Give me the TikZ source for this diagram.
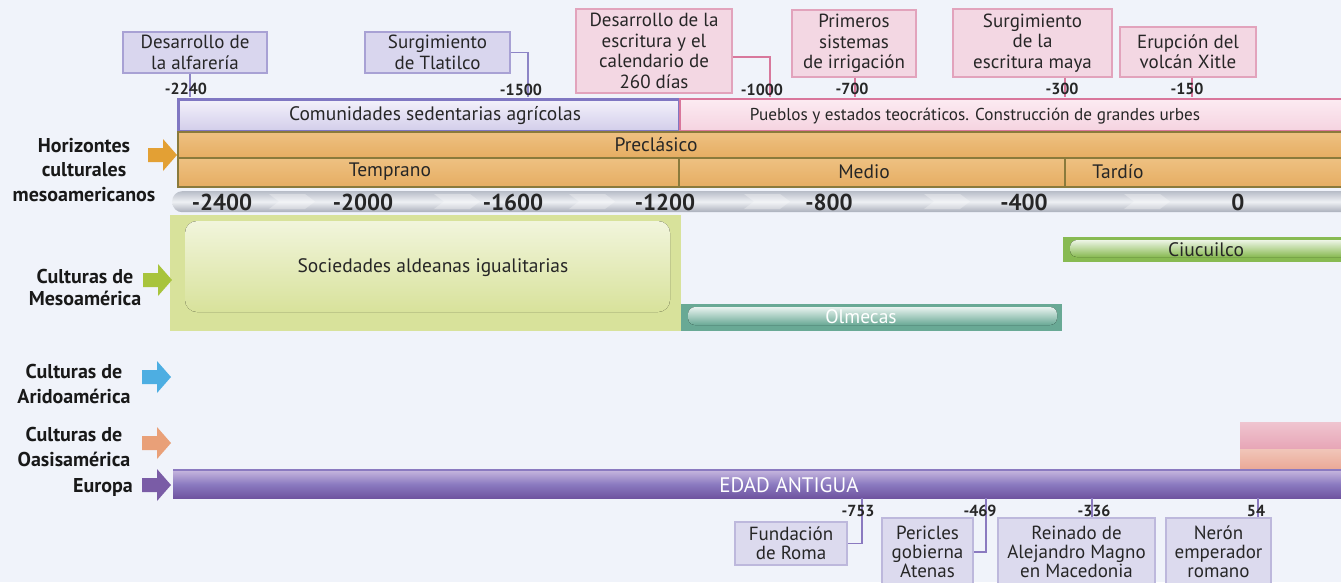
\documentclass[tikz,border=0pt]{standalone}
\usepackage{fontspec}
\setmainfont{PT Sans}

\definecolor{bgcol}{HTML}{F0F3FA}
\definecolor{evpurfill}{HTML}{D9D6EE}
\definecolor{evpurline}{HTML}{A8A1D4}
\definecolor{evpinkfill}{HTML}{F3D7E3}
\definecolor{evpinkline}{HTML}{E2A3BC}
\definecolor{purconn}{HTML}{8D85C6}
\definecolor{pinkconn}{HTML}{D8789C}
\definecolor{comline}{HTML}{8077C2}
\definecolor{comtop}{HTML}{F4F2FB}
\definecolor{combot}{HTML}{D2CDEA}
\definecolor{pueline}{HTML}{D9769B}
\definecolor{puetop}{HTML}{FCEBF2}
\definecolor{puebot}{HTML}{F5D3E0}
\definecolor{preline}{HTML}{8A7A3C}
\definecolor{pretop}{HTML}{EEC182}
\definecolor{prebot}{HTML}{E6AD62}
\definecolor{axtop}{HTML}{B8BDC8}
\definecolor{axmid}{HTML}{EEF0F4}
\definecolor{axbot}{HTML}{A9AEBA}
\definecolor{soccol}{HTML}{D8E29B}
\definecolor{ciucol}{HTML}{88BA52}
\definecolor{olmcol}{HTML}{69A995}
\definecolor{oastop}{HTML}{E7A5B6}
\definecolor{oasbot}{HTML}{E9A693}
\definecolor{eurtop}{HTML}{C6B6DE}
\definecolor{eurbot}{HTML}{6F539F}
\definecolor{eurline}{HTML}{8B7AC0}
\definecolor{lowfill}{HTML}{DCDAEE}
\definecolor{lowline}{HTML}{BDB8DC}
\definecolor{arrhor}{HTML}{E3A034}
\definecolor{arrmes}{HTML}{A8C43C}
\definecolor{arrari}{HTML}{4DAEE2}
\definecolor{arroas}{HTML}{E9A078}
\definecolor{arreur}{HTML}{7A5CA6}

\tikzset{
  evpur/.style={draw=evpurline, fill=evpurfill, line width=1.2pt, align=center, inner sep=1pt, text=black!85, font=\fontsize{19}{20.5}\selectfont},
  evpink/.style={evpur, draw=evpinkline, fill=evpinkfill},
  evlow/.style={evpur, draw=lowline, fill=lowfill, font=\fontsize{19}{19}\selectfont},
  purline/.style={draw=purconn, line width=1.5pt},
  pinkline/.style={draw=pinkconn, line width=1.5pt},
  eurconn/.style={draw=eurline, line width=1.5pt},
  yrlab/.style={inner sep=0pt, text=black!85, font=\bfseries\fontsize{16}{18}\selectfont},
  axlab/.style={inner sep=0pt, text=black!85, font=\bfseries\fontsize{23}{25}\selectfont},
  barbox/.style={anchor=north west, inner sep=0pt},
  barlab/.style={inner sep=0pt, text=black!85, font=\fontsize{19.5}{22}\selectfont},
  rowlab/.style={inner sep=0pt, align=center, text=black!90, font=\bfseries\fontsize{20}{24.5}\selectfont}
}

\newcommand{\rowarrow}[3]{\fill[#3] (#1-29,#2-7) -- (#1-14,#2-7) -- (#1-14,#2-16) -- (#1,#2) -- (#1-14,#2+16) -- (#1-14,#2+7) -- (#1-29,#2+7) -- cycle;}

\begin{document}
\begin{tikzpicture}[x=1pt,y=-1pt]
\useasboundingbox (0,0) rectangle (1341,582);
\clip (0,0) rectangle (1341,582);
\fill[bgcol] (0,0) rectangle (1341,582);

% horizontes
\node[barbox, draw=comline, line width=2.5pt, top color=comtop, bottom color=combot, minimum width=501pt, minimum height=32pt] (bcom) at (177,98) {};
\node[barbox, draw=pueline, line width=2pt, top color=puetop, bottom color=puebot, minimum width=680pt, minimum height=32pt] (bpue) at (679,98) {};
\node[barbox, draw=preline, line width=1.8pt, top color=pretop, bottom color=prebot, minimum width=1180pt, minimum height=26pt] (bpre) at (177,131) {};
\node[barbox, draw=preline, line width=1.8pt, top color=pretop, bottom color=prebot, minimum width=501pt, minimum height=29pt] (btem) at (177,157) {};
\node[barbox, draw=preline, line width=1.8pt, top color=pretop, bottom color=prebot, minimum width=386pt, minimum height=29pt] (bmed) at (678,157) {};
\node[barbox, draw=preline, line width=1.8pt, top color=pretop, bottom color=prebot, minimum width=300pt, minimum height=29pt] (btar) at (1064,157) {};
\node[barlab] (tcom) at (435,116) {Comunidades sedentarias agrícolas};
\node[barlab, font=\fontsize{17.2}{20}\selectfont] (tpue) at (975,116) {Pueblos y estados teocráticos. Construcción de grandes urbes};
\node[barlab] (tpre) at (656,145) {Preclásico};
\node[barlab] (ttem) at (390,172) {Temprano};
\node[barlab] (tmed) at (864,172) {Medio};
\node[barlab] (ttar) at (1118,172) {Tardío};

% eje
\node[barbox, rounded corners=10pt, top color=axtop, bottom color=axbot, middle color=axmid, minimum width=1200pt, minimum height=21pt] (bax) at (172,191) {};
\foreach \cx in {305,470,605,780,960,1160}
  \fill[white, opacity=0.3] (\cx-36,194) -- (\cx,194) -- (\cx+10,201.5) -- (\cx,209) -- (\cx-36,209) -- (\cx-26,201.5) -- cycle;
\foreach \yr/\xx in {-2400/222,-2000/363,-1600/513,-1200/665,-800/829,-400/1024,0/1238}
  \node[axlab] (ax\xx) at (\xx,202) {\yr};

% mesoamerica
\node[barbox, fill=soccol, minimum width=511pt, minimum height=116pt] (bsoc) at (170,215) {};
\fill[top color=white!65!soccol, bottom color=soccol, rounded corners=12pt] (185,221) rectangle (670,312);
\node[barlab] (tsoc) at (433,268) {Sociedades aldeanas igualitarias};
\node[barbox, fill=ciucol, minimum width=290pt, minimum height=25pt] (bciu) at (1063,237) {};
\fill[top color=white!85!ciucol, bottom color=ciucol, rounded corners=7pt] (1070,240) rectangle (1360,257);
\node[barlab] (tciu) at (1206,250) {Ciucuilco};
\node[barbox, fill=olmcol, minimum width=381pt, minimum height=27pt] (bolm) at (681,304) {};
\fill[top color=white!85!olmcol, bottom color=olmcol, rounded corners=7pt] (688,307) rectangle (1057,325);
\node[barlab, text=white] (tolm) at (861,317) {Olmecas};

% oasisamerica
\node[barbox, top color=white!35!oastop, bottom color=oastop, minimum width=110pt, minimum height=27pt] (boas) at (1240,422) {};
\node[barbox, top color=white!35!oasbot, bottom color=oasbot, minimum width=110pt, minimum height=22pt] (boas2) at (1240,449) {};

% europa
\node[barbox, top color=eurtop, bottom color=eurbot, middle color=eurline, minimum width=1180pt, minimum height=28pt] (beur) at (173,470) {};
\draw[eurline, line width=1.5pt] (beur.north west) -- (beur.north east);
\node[barlab, text=white, font=\fontsize{21}{24}\selectfont] (teur) at (789,485) {EDAD ANTIGUA};

% acontecimientos arriba
\node[evpur, minimum width=144pt, minimum height=41pt] (ealf) at (195,52.5) {Desarrollo de\\la alfarería};
\node[evpur, minimum width=145pt, minimum height=41pt] (etla) at (437.5,52.5) {Surgimiento\\de Tlatilco};
\node[evpink, minimum width=156pt, minimum height=84pt] (eesc) at (654,51) {Desarrollo de la\\escritura y el\\calendario de\\260 días};
\node[evpink, minimum width=124pt, minimum height=67pt] (eirr) at (854,43.5) {Primeros\\sistemas\\de irrigación};
\node[evpink, minimum width=159pt, minimum height=68pt] (emay) at (1032.5,43) {Surgimiento\\de la\\escritura maya};
\node[evpink, minimum width=136pt, minimum height=50pt] (exit) at (1188,52) {Erupción del\\volcán Xitle};
\coordinate (a2240) at (190,97);
\coordinate (a1500) at (528,97);
\coordinate (a1000) at (770,97);
\coordinate (a700) at (855,97);
\coordinate (a300) at (1065,97);
\coordinate (a150) at (1192,97);
\draw[purline] (ealf.south -| a2240) -- (a2240);
\draw[purline] (etla.east) -| (a1500);
\draw[pinkline] ([yshift=-6pt]eesc.east) -| (a1000);
\draw[pinkline] (eirr.south -| a700) -- (a700);
\draw[pinkline] (emay.south -| a300) -- (a300);
\draw[pinkline] (exit.south -| a150) -- (a150);
\node[yrlab] (l2240) at (186,89) {-2240};
\node[yrlab] (l1500) at (521,90) {-1500};
\node[yrlab] (l1000) at (762,90) {-1000};
\node[yrlab] (l700) at (852,89) {-700};
\node[yrlab] (l300) at (1062,89) {-300};
\node[yrlab] (l150) at (1187,89) {-150};

% acontecimientos abajo
\node[evlow, minimum width=112pt, minimum height=43pt] (erom) at (791,543.5) {Fundación\\de Roma};
\node[evlow, minimum width=91pt, minimum height=68pt] (eper) at (927.5,552) {Pericles\\gobierna\\Atenas};
\node[evlow, minimum width=157pt, minimum height=68pt] (erei) at (1076.5,552) {Reinado de\\Alejandro Magno\\en Macedonia};
\node[evlow, minimum width=105pt, minimum height=68pt] (ener) at (1218.5,552) {Nerón\\emperador\\romano};
\coordinate (b753) at (862,498);
\coordinate (b469) at (986,498);
\coordinate (b336) at (1092,498);
\coordinate (b54) at (1258,498);
\draw[eurconn] (b753) |- (erom.east);
\draw[eurconn] (b469) |- (eper.east);
\draw[eurconn] (b336) -- (b336 |- erei.north);
\draw[eurconn] (b54) -- (b54 |- ener.north);
\node[yrlab] (l753) at (858,511) {-753};
\node[yrlab] (l469) at (980,511) {-469};
\node[yrlab] (l336) at (1094,511) {-336};
\node[yrlab] (l54) at (1256,511) {54};

% filas
\node[rowlab] (rhor) at (84,170) {Horizontes\\culturales\\mesoamericanos};
\rowarrow{177}{155}{arrhor}
\node[rowlab, font=\bfseries\fontsize{20}{22}\selectfont] (rmes) at (85,287) {Culturas de\\Mesoamérica};
\rowarrow{172}{280}{arrmes}
\node[rowlab] (rari) at (74,384) {Culturas de\\Aridoamérica};
\rowarrow{171}{377}{arrari}
\node[rowlab] (roas) at (74,447) {Culturas de\\Oasisamérica};
\rowarrow{171}{443}{arroas}
\node[rowlab, anchor=east] (reur) at (133,487) {Europa};
\rowarrow{171}{485}{arreur}
\end{tikzpicture}
\end{document}
